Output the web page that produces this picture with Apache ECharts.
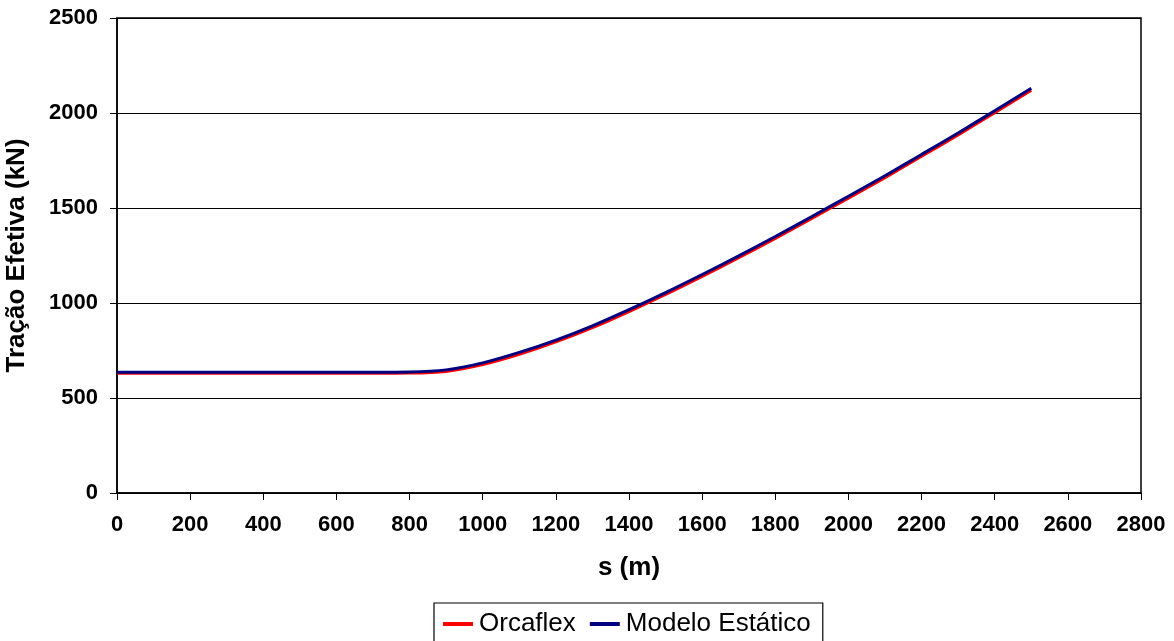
<!DOCTYPE html>
<html>
<head>
<meta charset="utf-8">
<script src="https://cdn.jsdelivr.net/npm/echarts@6/dist/echarts.min.js"></script>
<style>
html,body{margin:0;padding:0;background:#fff;}
#c{width:1174px;height:641px;}
</style>
</head>
<body>
<div id="c"></div>
<script>
const sValues = [0,100,200,300,400,500,600,700,800,900,1000,1100,1200,1300,1400,1500,1600,1700,1800,1900,2000,2100,2200,2300,2400,2500];
const orcaflex = [630,630,630,630,630,630,630,630,631,640,676,730,795,870,955,1045,1140,1238,1340,1445,1552,1660,1772,1885,2002,2120];
const modeloEstatico = [636,636,636,636,636,636,636,636,637,648,685,740,805,880,965,1055,1150,1248,1350,1455,1562,1670,1782,1895,2012,2130];
const seriesNames = ['Orcaflex','Modelo Estático'];
const xTitle = 's (m)';
const yTitle = 'Tração Efetiva (kN)';

const pair = (ys) => sValues.map((s,i)=>[s,ys[i]]);
const font = 'Liberation Sans, Arial, sans-serif';
const chart = echarts.init(document.getElementById('c'));
chart.setOption({
  animation:false,
  backgroundColor:'#fff',
  grid:{left:117,right:33,top:18,bottom:148,show:true,borderColor:'#000',borderWidth:1.5,backgroundColor:'transparent',outerBoundsMode:'none',containLabel:false},
  legend:{
    data:seriesNames, top:603, left:434,
    itemWidth:30, itemHeight:4, itemGap:14,
    icon:'rect',
    borderColor:'#000', borderWidth:1.2, padding:[8,12,8,9],
    textStyle:{fontFamily:font,fontSize:26,color:'#000',padding:[0,0,0,1]}
  },
  xAxis:{
    type:'value', min:0, max:2800, interval:200,
    name:xTitle, nameLocation:'middle', nameGap:62,
    nameTextStyle:{fontFamily:font,fontSize:26,fontWeight:'bold',color:'#000'},
    axisLine:{lineStyle:{color:'#000',width:1.5}},
    axisTick:{show:true,length:7,lineStyle:{color:'#000',width:1}},
    axisLabel:{margin:21,fontFamily:font,fontSize:22,fontWeight:'bold',color:'#000',formatter:(v)=>String(v)},
    splitLine:{show:false}
  },
  yAxis:{
    type:'value', min:0, max:2500, interval:500,
    name:yTitle, nameLocation:'middle', nameGap:87, nameRotate:90,
    nameTextStyle:{fontFamily:font,fontSize:26,fontWeight:'bold',color:'#000'},
    axisLine:{show:true,lineStyle:{color:'#000',width:1.5}},
    axisTick:{show:true,length:7,lineStyle:{color:'#000',width:1}},
    axisLabel:{margin:19,fontFamily:font,fontSize:22,fontWeight:'bold',color:'#000',formatter:(v)=>String(v)},
    splitLine:{show:true,lineStyle:{color:'#000',width:1}}
  },
  series:[
    {name:seriesNames[0],type:'line',data:pair(orcaflex),smooth:0.3,showSymbol:false,symbol:'none',
     lineStyle:{color:'#ff0000',width:3},itemStyle:{color:'#ff0000'}},
    {name:seriesNames[1],type:'line',data:pair(modeloEstatico),smooth:0.3,showSymbol:false,symbol:'none',
     lineStyle:{color:'#000080',width:3},itemStyle:{color:'#000080'}}
  ]
});
</script>
</body>
</html>
